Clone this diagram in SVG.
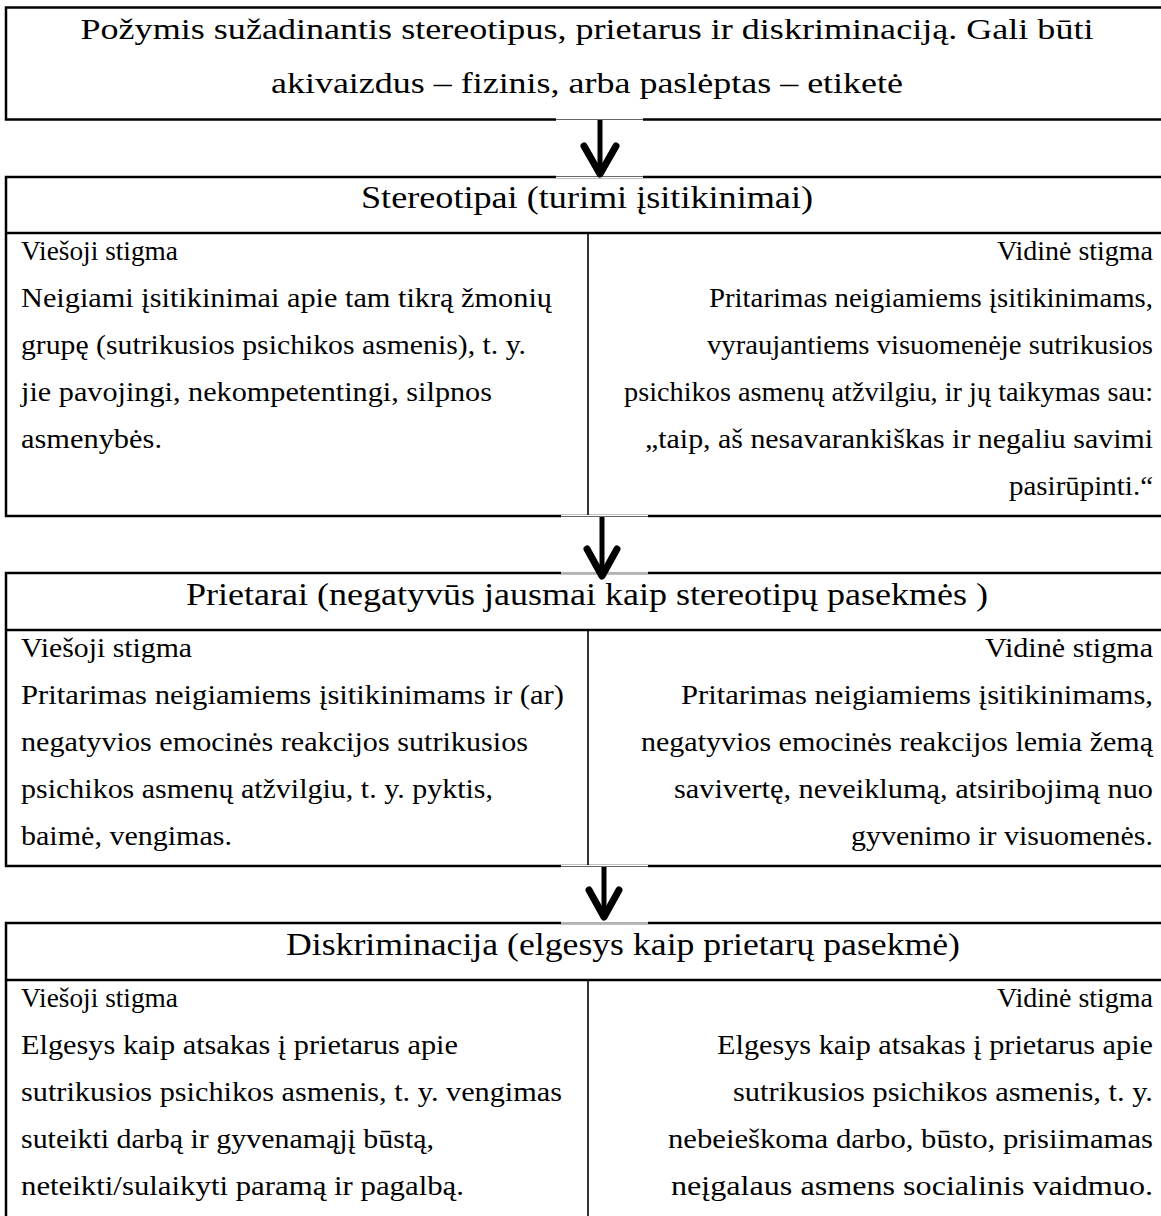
<svg xmlns="http://www.w3.org/2000/svg" width="1161" height="1216" viewBox="0 0 1161 1216">
<style>
.box{fill:#fff;stroke:#000;stroke-width:2.5}
.hl{stroke:#000;stroke-width:2.5}
.vl{stroke:#000;stroke-width:1.6}
.t{font-family:"Liberation Serif","Times New Roman",serif;fill:#000}
.h{font-size:31px;text-anchor:middle}
.top{font-size:30px;text-anchor:middle}
.b{font-size:27px}
.r{text-anchor:end}
.mask{fill:#fff;stroke:none}
.faint{stroke:#666;stroke-width:1}
.shaft{stroke:#000;stroke-width:5;fill:none}
.head{stroke:#000;stroke-width:7;fill:none;stroke-linecap:round;stroke-linejoin:round}
</style>
<rect width="1161" height="1216" fill="#fff"/>

<g id="node-top">
<rect class="box" x="6" y="7.5" width="1170" height="112"/>
<text class="t top" x="587" y="39" textLength="1013" lengthAdjust="spacingAndGlyphs">Požymis sužadinantis stereotipus, prietarus ir diskriminaciją. Gali būti</text>
<text class="t top" x="587" y="93" textLength="632" lengthAdjust="spacingAndGlyphs">akivaizdus – fizinis, arba paslėptas – etiketė</text>
</g>

<g id="node-stereotipai">
<rect class="box" x="6" y="177" width="1170" height="339"/>
<line class="hl" x1="6" y1="233" x2="1161" y2="233"/>
<line class="vl" x1="588" y1="233" x2="588" y2="516"/>
<text class="t h" x="587" y="208" textLength="452" lengthAdjust="spacingAndGlyphs">Stereotipai (turimi įsitikinimai)</text>
<text class="t b" x="21" y="260" textLength="157" lengthAdjust="spacingAndGlyphs">Viešoji stigma</text>
<text class="t b" x="21" y="307" textLength="531" lengthAdjust="spacingAndGlyphs">Neigiami įsitikinimai apie tam tikrą žmonių</text>
<text class="t b" x="21" y="354" textLength="505" lengthAdjust="spacingAndGlyphs">grupę (sutrikusios psichikos asmenis), t. y.</text>
<text class="t b" x="21" y="401" textLength="471" lengthAdjust="spacingAndGlyphs">jie pavojingi, nekompetentingi, silpnos</text>
<text class="t b" x="21" y="448" textLength="141" lengthAdjust="spacingAndGlyphs">asmenybės.</text>
<text class="t b r" x="1153" y="260" textLength="156" lengthAdjust="spacingAndGlyphs">Vidinė stigma</text>
<text class="t b r" x="1153" y="307" textLength="444" lengthAdjust="spacingAndGlyphs">Pritarimas neigiamiems įsitikinimams,</text>
<text class="t b r" x="1153" y="354" textLength="446" lengthAdjust="spacingAndGlyphs">vyraujantiems visuomenėje sutrikusios</text>
<text class="t b r" x="1153" y="401" textLength="529" lengthAdjust="spacingAndGlyphs">psichikos asmenų atžvilgiu, ir jų taikymas sau:</text>
<text class="t b r" x="1153" y="448" textLength="508" lengthAdjust="spacingAndGlyphs">„taip, aš nesavarankiškas ir negaliu savimi</text>
<text class="t b r" x="1153" y="495" textLength="144" lengthAdjust="spacingAndGlyphs">pasirūpinti.“</text>
</g>

<g id="node-prietarai">
<rect class="box" x="6" y="573" width="1170" height="293"/>
<line class="hl" x1="6" y1="630" x2="1161" y2="630"/>
<line class="vl" x1="588" y1="630" x2="588" y2="866"/>
<text class="t h" x="587" y="605" textLength="802" lengthAdjust="spacingAndGlyphs">Prietarai (negatyvūs jausmai kaip stereotipų pasekmės )</text>
<text class="t b" x="21" y="657" textLength="171" lengthAdjust="spacingAndGlyphs">Viešoji stigma</text>
<text class="t b" x="21" y="704" textLength="543" lengthAdjust="spacingAndGlyphs">Pritarimas neigiamiems įsitikinimams ir (ar)</text>
<text class="t b" x="21" y="751" textLength="507" lengthAdjust="spacingAndGlyphs">negatyvios emocinės reakcijos sutrikusios</text>
<text class="t b" x="21" y="798" textLength="472" lengthAdjust="spacingAndGlyphs">psichikos asmenų atžvilgiu, t. y. pyktis,</text>
<text class="t b" x="21" y="845" textLength="211" lengthAdjust="spacingAndGlyphs">baimė, vengimas.</text>
<text class="t b r" x="1153" y="657" textLength="168" lengthAdjust="spacingAndGlyphs">Vidinė stigma</text>
<text class="t b r" x="1153" y="704" textLength="472" lengthAdjust="spacingAndGlyphs">Pritarimas neigiamiems įsitikinimams,</text>
<text class="t b r" x="1153" y="751" textLength="512" lengthAdjust="spacingAndGlyphs">negatyvios emocinės reakcijos lemia žemą</text>
<text class="t b r" x="1153" y="798" textLength="479" lengthAdjust="spacingAndGlyphs">savivertę, neveiklumą, atsiribojimą nuo</text>
<text class="t b r" x="1153" y="845" textLength="302" lengthAdjust="spacingAndGlyphs">gyvenimo ir visuomenės.</text>
</g>

<g id="node-diskriminacija">
<rect class="box" x="6" y="923" width="1170" height="320"/>
<line class="hl" x1="6" y1="980" x2="1161" y2="980"/>
<line class="vl" x1="588" y1="980" x2="588" y2="1216"/>
<text class="t h" x="623" y="955" textLength="674" lengthAdjust="spacingAndGlyphs">Diskriminacija (elgesys kaip prietarų pasekmė)</text>
<text class="t b" x="21" y="1007" textLength="157" lengthAdjust="spacingAndGlyphs">Viešoji stigma</text>
<text class="t b" x="21" y="1054" textLength="437" lengthAdjust="spacingAndGlyphs">Elgesys kaip atsakas į prietarus apie</text>
<text class="t b" x="21" y="1101" textLength="541" lengthAdjust="spacingAndGlyphs">sutrikusios psichikos asmenis, t. y. vengimas</text>
<text class="t b" x="21" y="1148" textLength="413" lengthAdjust="spacingAndGlyphs">suteikti darbą ir gyvenamąjį būstą,</text>
<text class="t b" x="21" y="1195" textLength="443" lengthAdjust="spacingAndGlyphs">neteikti/sulaikyti paramą ir pagalbą.</text>
<text class="t b r" x="1153" y="1007" textLength="156" lengthAdjust="spacingAndGlyphs">Vidinė stigma</text>
<text class="t b r" x="1153" y="1054" textLength="436" lengthAdjust="spacingAndGlyphs">Elgesys kaip atsakas į prietarus apie</text>
<text class="t b r" x="1153" y="1101" textLength="420" lengthAdjust="spacingAndGlyphs">sutrikusios psichikos asmenis, t. y.</text>
<text class="t b r" x="1153" y="1148" textLength="485" lengthAdjust="spacingAndGlyphs">nebeieškoma darbo, būsto, prisiimamas</text>
<text class="t b r" x="1153" y="1195" textLength="482" lengthAdjust="spacingAndGlyphs">neįgalaus asmens socialinis vaidmuo.</text>
</g>

<g id="connectors">
<rect class="mask" x="556" y="118" width="87" height="60"/>
<line class="faint" x1="556" y1="119.5" x2="643" y2="119.5"/>
<line class="faint" x1="556" y1="176.5" x2="643" y2="176.5"/>
<line class="shaft" x1="600" y1="120" x2="600" y2="170"/>
<polyline class="head" points="584,146 600,174 616,146"/>

<rect class="mask" x="561" y="515" width="87" height="59"/>
<line class="faint" x1="561" y1="516.5" x2="648" y2="516.5"/>
<line class="faint" x1="561" y1="573" x2="648" y2="573"/>
<line class="shaft" x1="602" y1="517" x2="602" y2="572"/>
<polyline class="head" points="587,549 602,576 617,549"/>

<rect class="mask" x="561" y="865" width="87" height="59"/>
<line class="faint" x1="561" y1="866.5" x2="648" y2="866.5"/>
<line class="faint" x1="561" y1="923" x2="648" y2="923"/>
<line class="shaft" x1="604" y1="867" x2="604" y2="914"/>
<polyline class="head" points="589,890 604,917 619,890"/>
</g>
</svg>
